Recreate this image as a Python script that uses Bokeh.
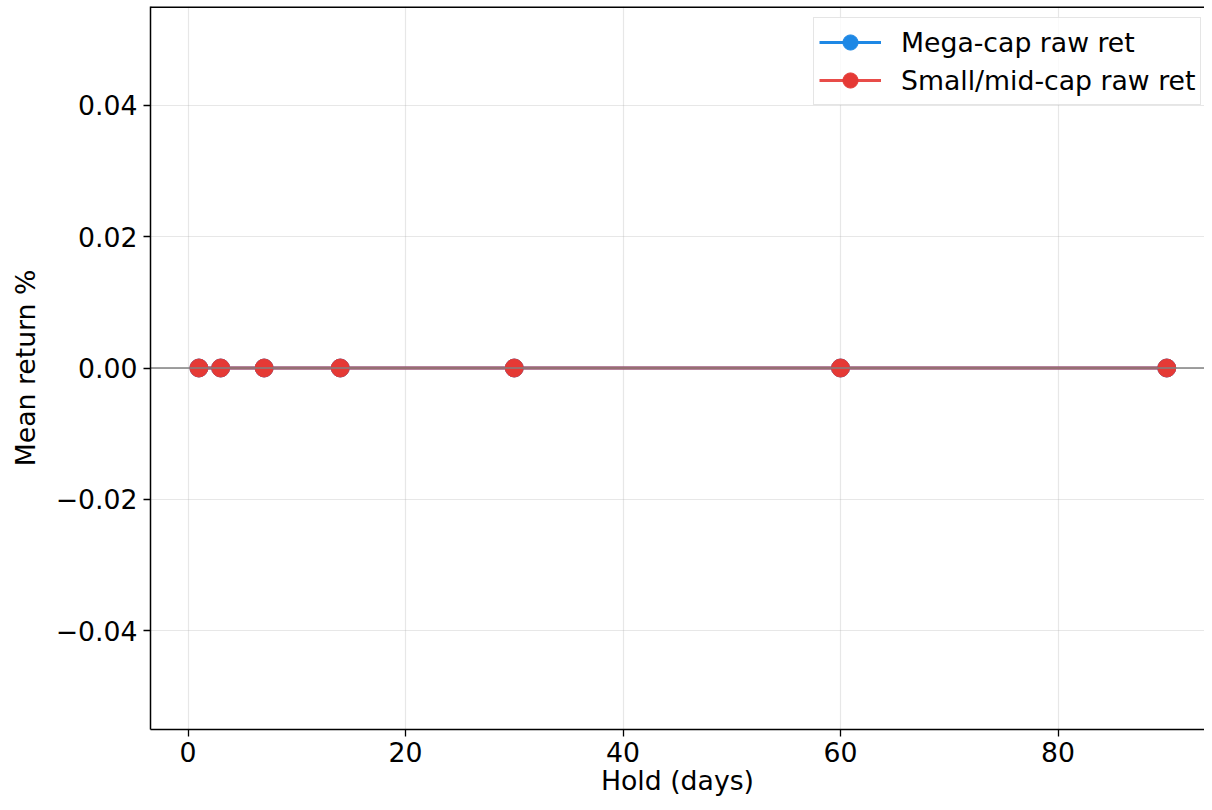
from bokeh.plotting import figure
from bokeh.models import FixedTicker, Span, Legend, LegendItem
from bokeh.embed import file_html
from bokeh.resources import INLINE

hold_days = [1, 3, 7, 14, 30, 60, 90]
mega_ret = [0.0, 0.0, 0.0, 0.0, 0.0, 0.0, 0.0]
small_ret = [0.0, 0.0, 0.0, 0.0, 0.0, 0.0, 0.0]
x_ticks = [0, 20, 40, 60, 80]
y_ticks = [-0.04, -0.02, 0.0, 0.02, 0.04]
y_tick_labels = {-0.04: "\u22120.04", -0.02: "\u22120.02", 0.0: "0.00", 0.02: "0.02", 0.04: "0.04"}
x_label = "Hold (days)"
y_label = "Mean return %"

FONT = "DejaVu Sans"
FS = "26.7px"
BLUE = "#1e88e5"
RED = "#e53935"

p = figure(width=1204, height=802, output_backend="svg", toolbar_location=None,
           x_range=(-3.45, 93.47), y_range=(-0.055, 0.055),
           min_border_left=150, min_border_right=0, min_border_top=6, min_border_bottom=73)
p.outline_line_color = None
p.background_fill_color = "white"
p.border_fill_color = "white"

for ax in (p.xaxis[0], p.yaxis[0]):
    ax.axis_line_color = "black"
    ax.axis_line_width = 1.5
    ax.major_tick_line_color = "black"
    ax.major_tick_line_width = 1.3
    ax.major_tick_out = 7
    ax.major_tick_in = 0
    ax.minor_tick_line_color = None
    ax.major_label_text_font = FONT
    ax.major_label_text_font_size = FS
    ax.major_label_text_color = "black"
    ax.axis_label_text_font = FONT
    ax.axis_label_text_font_size = FS
    ax.axis_label_text_font_style = "normal"
    ax.axis_label_text_color = "black"

p.xaxis.ticker = FixedTicker(ticks=x_ticks)
p.yaxis.ticker = FixedTicker(ticks=y_ticks)
p.yaxis.major_label_overrides = y_tick_labels
p.xaxis.axis_label = x_label
p.yaxis.axis_label = y_label
p.xaxis.major_label_standoff = 5
p.yaxis.major_label_standoff = 6
p.xaxis.axis_label_standoff = 0
p.yaxis.axis_label_standoff = 12

p.xgrid.ticker = FixedTicker(ticks=x_ticks)
p.ygrid.ticker = FixedTicker(ticks=y_ticks)
p.grid.grid_line_color = "#b0b0b0"
p.grid.grid_line_alpha = 0.3
p.grid.grid_line_width = 1.2

# top spine
p.add_layout(Span(location=0.055, dimension="width", line_color="black", line_width=3))

l1 = p.line(hold_days, mega_ret, line_color=BLUE, line_width=3)
l2 = p.line(hold_days, small_ret, line_color=RED, line_width=3, line_alpha=0.9)
# zero reference line (drawn over lines, under markers)
p.add_layout(Span(location=0.0, dimension="width", line_color="#808080", line_width=1.3, level="glyph"))
s1 = p.scatter(hold_days, mega_ret, marker="circle", size=18, fill_color=BLUE, line_color=BLUE)
s2 = p.scatter(hold_days, small_ret, marker="circle", size=18, fill_color=RED, line_color=RED)

legend = Legend(items=[LegendItem(label="Mega-cap raw ret", renderers=[l1, s1]),
                       LegendItem(label="Small/mid-cap raw ret", renderers=[l2, s2])],
                location=(663, 624))
legend.label_text_font = FONT
legend.label_text_font_size = FS
legend.label_text_color = "black"
legend.glyph_width = 62
legend.glyph_height = 38
legend.label_standoff = 20
legend.padding = 5
legend.spacing = 0
legend.margin = 0
legend.border_line_color = "#cccccc"
legend.border_line_width = 1.5
legend.background_fill_color = "white"
legend.background_fill_alpha = 0.8
p.add_layout(legend)

open("out.html", "w").write(file_html(p, INLINE))
